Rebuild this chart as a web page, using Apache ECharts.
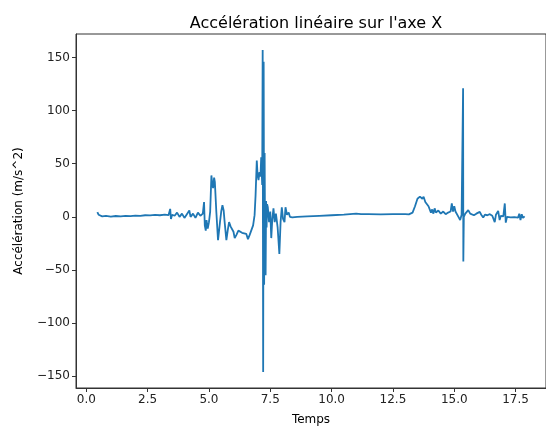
<!DOCTYPE html>
<html>
<head>
<meta charset="utf-8">
<script src="https://cdn.jsdelivr.net/npm/echarts@6/dist/echarts.min.js"></script>
<style>
  html, body { margin: 0; padding: 0; background: #fff; overflow: hidden; }
  #panel { width: 546px; height: 433px; }
</style>
</head>
<body>
<div id="panel"></div>
<script>
// temps (s) et accélération (m/s^2)
var temps = [
  0.45, 0.5, 0.55, 0.65, 0.8, 1.0, 1.2, 1.4, 1.6, 1.8, 2.0, 2.2, 2.4, 2.6, 2.8, 3.0, 3.2, 3.35,
  3.42, 3.45, 3.5, 3.6, 3.7, 3.8, 3.9, 4.0, 4.1, 4.2, 4.25, 4.35, 4.45, 4.55, 4.65, 4.75,
  4.8, 4.83, 4.87, 4.9, 4.95, 5.0, 5.05, 5.1, 5.14, 5.17, 5.21, 5.24, 5.3, 5.37, 5.45, 5.5,
  5.55, 5.6, 5.64, 5.71, 5.77, 5.82, 5.88, 5.94, 6.0, 6.05, 6.12, 6.2, 6.28, 6.35, 6.42, 6.52,
  6.59, 6.66, 6.73, 6.8, 6.86, 6.9, 6.95, 6.98, 7.02, 7.06, 7.1, 7.13, 7.17,
  7.19, 7.21, 7.23, 7.25, 7.27, 7.29, 7.31, 7.33, 7.35, 7.37, 7.4, 7.45, 7.5, 7.54, 7.58,
  7.63, 7.68, 7.73, 7.8, 7.87, 7.92, 7.97, 8.02, 8.08, 8.12, 8.18, 8.25, 8.3,
  8.4, 8.6, 9.0, 9.5, 10.0, 10.5, 11.0, 11.2, 11.5, 12.0, 12.5, 13.0, 13.15, 13.2, 13.3,
  13.4, 13.5, 13.6, 13.65, 13.7, 13.75, 13.82, 13.9, 13.95, 14.02, 14.05, 14.1, 14.15, 14.2,
  14.25, 14.35, 14.45, 14.55, 14.65, 14.75, 14.85, 14.9, 14.95, 15.0, 15.05, 15.1, 15.17,
  15.24, 15.3, 15.36, 15.37, 15.39, 15.45, 15.5, 15.57, 15.65, 15.72, 15.8, 15.84, 15.9,
  15.97, 16.04, 16.1, 16.18, 16.25, 16.35, 16.45, 16.55, 16.62, 16.65, 16.7, 16.79, 16.85,
  16.9, 17.0, 17.06, 17.1, 17.15, 17.3, 17.45, 17.6, 17.65, 17.7, 17.75, 17.8, 17.87
];
var acceleration = [
  4.5, 2, 3.5, 0.5, 1, 0.3, 0.8, 0.5, 1.0, 0.6, 1.2, 0.9, 1.5, 1.3, 1.8, 1.5, 2.0, 1.6,
  7.5, -2, 2, 1, 4, 0, 3, -1, 2.5, 6, 0, 3, -1, 4, 1, 3,
  14, -8, -13, -3, -11, -5, 5, 39, 30, 27, 37, 33, 5, -22, -5, 5,
  11, 6, -5, -22, -12, -5, -9, -8, -14, -20, -17, -13, -12.5, -15, -14, -16,
  -21, -17, -12.5, -8, 1.6, 20, 53, 40, 34.5, 42, 38, 56, 30,
  157, -146, 146, -64, 60, -36, -55, 15, -10, 12, 9, -5, 5, -20, -3,
  8, -5, 3, -10, -35, -5, 9, -2, -5, 9, 2, 4, 0,
  -0.5, 0, 0.5, 1, 1.5, 2, 3, 2.5, 2.6, 2.4, 2.5, 2.6, 2.3, 0.5, 4,
  10, 17, 19, 20.5, 17, 19, 14, 13, 10, 9.4, 4, 7, 3, 8,
  4, 6, 3, 5, 2.5, 4, 5, 12.6, 5, 10, 5, 3.5, 0,
  -3, 2, 121, -42, 0, 3, 4, 6.3, 3, 3.5, 1.5, 1.6, 3,
  2, 4.7, 2, -0.6, 2, 1.5, 2.5, 1, 2, -5, 2, 5.6, -3,
  1, 0.5, 12.6, -5.5, 0, -0.5, -0.3, -0.8, 3, -3, 2.5, -1, 0.5
];
var xTicks = [0, 2.5, 5, 7.5, 10, 12.5, 15, 17.5];
var yTicks = [-150, -100, -50, 0, 50, 100, 150];

var points = temps.map(function (t, i) { return [t, acceleration[i]]; });

var chart = echarts.init(document.getElementById('panel'));
var font = 'DejaVu Sans';
chart.setOption({
  backgroundColor: '#ffffff',
  animation: false,
  title: {
    text: "Accélération linéaire sur l'axe X",
    left: 311,
    top: 11,
    textAlign: 'center',
    textStyle: { fontFamily: font, fontSize: 16, fontWeight: 'normal', color: '#000' }
  },
  grid: {
    left: 76, width: 473, top: 34, bottom: 45,
    show: true, borderColor: '#333', borderWidth: 1, backgroundColor: 'transparent'
  },
  xAxis: {
    type: 'value',
    min: -0.42, max: 18.74,
    name: 'Temps',
    nameLocation: 'middle',
    nameGap: 26,
    nameTextStyle: { fontFamily: font, fontSize: 12, color: '#000' },
    axisLine: { show: true, onZero: false, lineStyle: { color: '#333' } },
    axisTick: { show: true, length: 4, customValues: xTicks, lineStyle: { color: '#333' } },
    axisLabel: {
      customValues: xTicks, margin: 6,
      fontFamily: font, fontSize: 12, color: '#222',
      formatter: function (v) { return v.toFixed(1); }
    },
    splitLine: { show: false }
  },
  yAxis: {
    type: 'value',
    min: -161.15, max: 172.15,
    name: 'Accélération (m/s^2)',
    nameLocation: 'middle',
    nameGap: 51,
    nameTextStyle: { fontFamily: font, fontSize: 12, color: '#000' },
    axisLine: { show: true, onZero: false, lineStyle: { color: '#333' } },
    axisTick: { show: true, length: 4, customValues: yTicks, lineStyle: { color: '#333' } },
    axisLabel: {
      customValues: yTicks, margin: 6,
      fontFamily: font, fontSize: 12, color: '#222',
      formatter: function (v) { return String(v).replace('-', '\u2212'); }
    },
    splitLine: { show: false }
  },
  series: [{
    type: 'line',
    data: points,
    showSymbol: false,
    lineStyle: { color: '#1f77b4', width: 1.8 },
    itemStyle: { color: '#1f77b4' }
  }]
});
</script>
</body>
</html>
